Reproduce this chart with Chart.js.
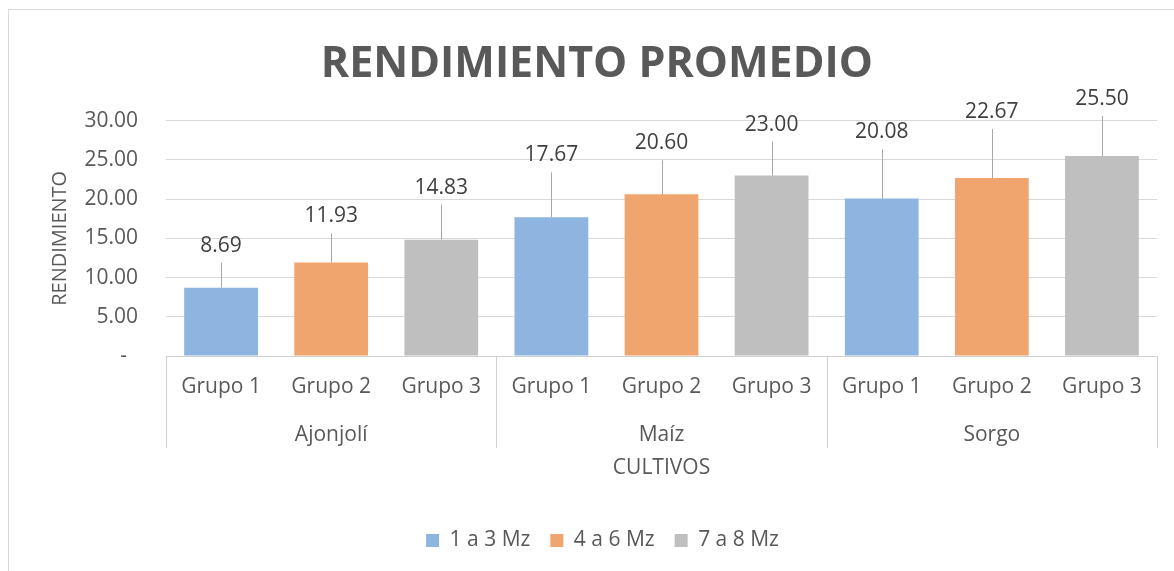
<!DOCTYPE html>
<html>
<head>
<meta charset="utf-8">
<script src="https://cdn.jsdelivr.net/npm/chart.js@4.4.1/dist/chart.umd.min.js"></script>
<style>
  html, body { margin: 0; padding: 0; background: #ffffff; }
  #marco { position: absolute; left: 8px; top: 9px; width: 1200px; height: 600px; border: 1px solid #d9d9d9; }
  #caja { position: absolute; left: 0; top: 0; width: 1174px; height: 571px; }
</style>
</head>
<body>
<div id="marco"></div>
<div id="caja"><canvas id="grafica"></canvas></div>
<script>
//DATOS
const cultivos = ['Ajonjolí', 'Maíz', 'Sorgo'];
const grupos = ['Grupo 1', 'Grupo 2', 'Grupo 3', 'Grupo 1', 'Grupo 2', 'Grupo 3', 'Grupo 1', 'Grupo 2', 'Grupo 3'];
const serie1a3 = [8.69, null, null, 17.67, null, null, 20.08, null, null];
const serie4a6 = [null, 11.93, null, null, 20.60, null, null, 22.67, null];
const serie7a8 = [null, null, 14.83, null, null, 23.00, null, null, 25.50];
const nombresSeries = ['1 a 3 Mz', '4 a 6 Mz', '7 a 8 Mz'];
const yTicks = [0, 5, 10, 15, 20, 25, 30];
//DATOS

const fuente = "'Open Sans', 'Noto Sans', sans-serif";
const colores = ['#8db5e0', '#f0a46e', '#bfbfbf'];

//PLUGIN etiquetas con linea guia (Excel)
const etiquetas = {
    id: 'etiquetas',
    afterDatasetsDraw(chart, args, opts) {
        const ctx = chart.ctx;
        ctx.save();
        chart.data.datasets.forEach((ds, i) => {
            const meta = chart.getDatasetMeta(i);
            meta.data.forEach((bar, j) => {
                const v = ds.data[j];
                if (v === null) return;
                const lift = opts.lift[j];
                const yLabel = bar.y - lift;
                ctx.strokeStyle = '#a6a6a6';
                ctx.lineWidth = 1;
                ctx.beginPath();
                ctx.moveTo(Math.round(bar.x) + 0.5, bar.y);
                ctx.lineTo(Math.round(bar.x) + 0.5, yLabel + 17);
                ctx.stroke();
                ctx.fillStyle = '#404040';
                ctx.font = '21px ' + fuente;
                ctx.textAlign = 'center';
                ctx.textBaseline = 'middle';
                ctx.fillText(v.toFixed(2), bar.x, yLabel);
            });
        });
        ctx.restore();
    }
};

//PLUGIN eje de categorias con dos niveles
const ejeGrupos = {
    id: 'ejeGrupos',
    afterDraw(chart) {
        const ctx = chart.ctx;
        const x = chart.scales.x;
        const area = chart.chartArea;
        const ancho = (x.right - x.left) / grupos.length;
        ctx.save();
        ctx.strokeStyle = '#d0d0d0';
        ctx.lineWidth = 1;
        for (let g = 0; g <= cultivos.length; g++) {
            const px = Math.round(x.left + ancho * g * 3) + 0.5;
            ctx.beginPath();
            ctx.moveTo(px, area.bottom);
            ctx.lineTo(px, area.bottom + 92);
            ctx.stroke();
        }
        ctx.fillStyle = '#595959';
        ctx.font = '21px ' + fuente;
        ctx.textAlign = 'center';
        ctx.textBaseline = 'middle';
        cultivos.forEach((c, g) => {
            const cx = (x.getPixelForValue(g * 3) + x.getPixelForValue(g * 3 + 2)) / 2;
            ctx.fillText(c, cx, area.bottom + 79);
        });
        ctx.restore();
    }
};

const chart = new Chart(document.getElementById('grafica'), {
    type: 'bar',
    data: {
        labels: grupos,
        datasets: [
            { label: nombresSeries[0], data: serie1a3, backgroundColor: colores[0] },
            { label: nombresSeries[1], data: serie4a6, backgroundColor: colores[1] },
            { label: nombresSeries[2], data: serie7a8, backgroundColor: colores[2] }
        ]
    },
    options: {
        responsive: true,
        maintainAspectRatio: false,
        animation: false,
        skipNull: true,
        categoryPercentage: 1,
        barPercentage: 0.67,
        layout: { padding: { left: 48, right: 17, top: 0, bottom: 10 } },
        plugins: {
            title: {
                display: true,
                text: 'RENDIMIENTO PROMEDIO ',
                color: '#595959',
                font: { family: fuente, size: 43, weight: 'bold' },
                padding: { top: 39, bottom: 30 }
            },
            legend: {
                position: 'bottom',
                labels: {
                    color: '#595959',
                    font: { family: fuente, size: 21 },
                    boxWidth: 13,
                    boxHeight: 13,
                    padding: 20
                }
            },
            tooltip: { enabled: false },
            etiquetas: { lift: [42, 46, 52, 62, 51, 51, 66, 66, 57] }
        },
        scales: {
            x: {
                grid: { display: false, drawTicks: false },
                border: { display: true, color: '#d0d0d0' },
                ticks: { color: '#595959', font: { family: fuente, size: 21 }, padding: 18, maxRotation: 0, autoSkip: false },
                title: {
                    display: true,
                    text: 'CULTIVOS',
                    color: '#595959',
                    font: { family: fuente, size: 21 },
                    padding: { top: 0, bottom: 29 }
                },
                afterFit(scale) { scale.height = 154; }
            },
            y: {
                min: 0,
                max: 30,
                afterBuildTicks(scale) { scale.ticks = yTicks.map(v => ({ value: v })); },
                grid: { color: '#d9d9d9', drawTicks: false },
                border: { display: false },
                ticks: {
                    color: '#595959',
                    font: { family: fuente, size: 21 },
                    padding: 28,
                    callback: (v) => v === 0 ? '-  ' : v.toFixed(2)
                },
                title: {
                    display: true,
                    text: 'RENDIMIENTO',
                    color: '#595959',
                    font: { family: fuente, size: 20 },
                    padding: 0
                },
                afterFit(scale) { scale.width = 118; }
            }
        }
    },
    plugins: [etiquetas, ejeGrupos]
});
</script>
</body>
</html>
